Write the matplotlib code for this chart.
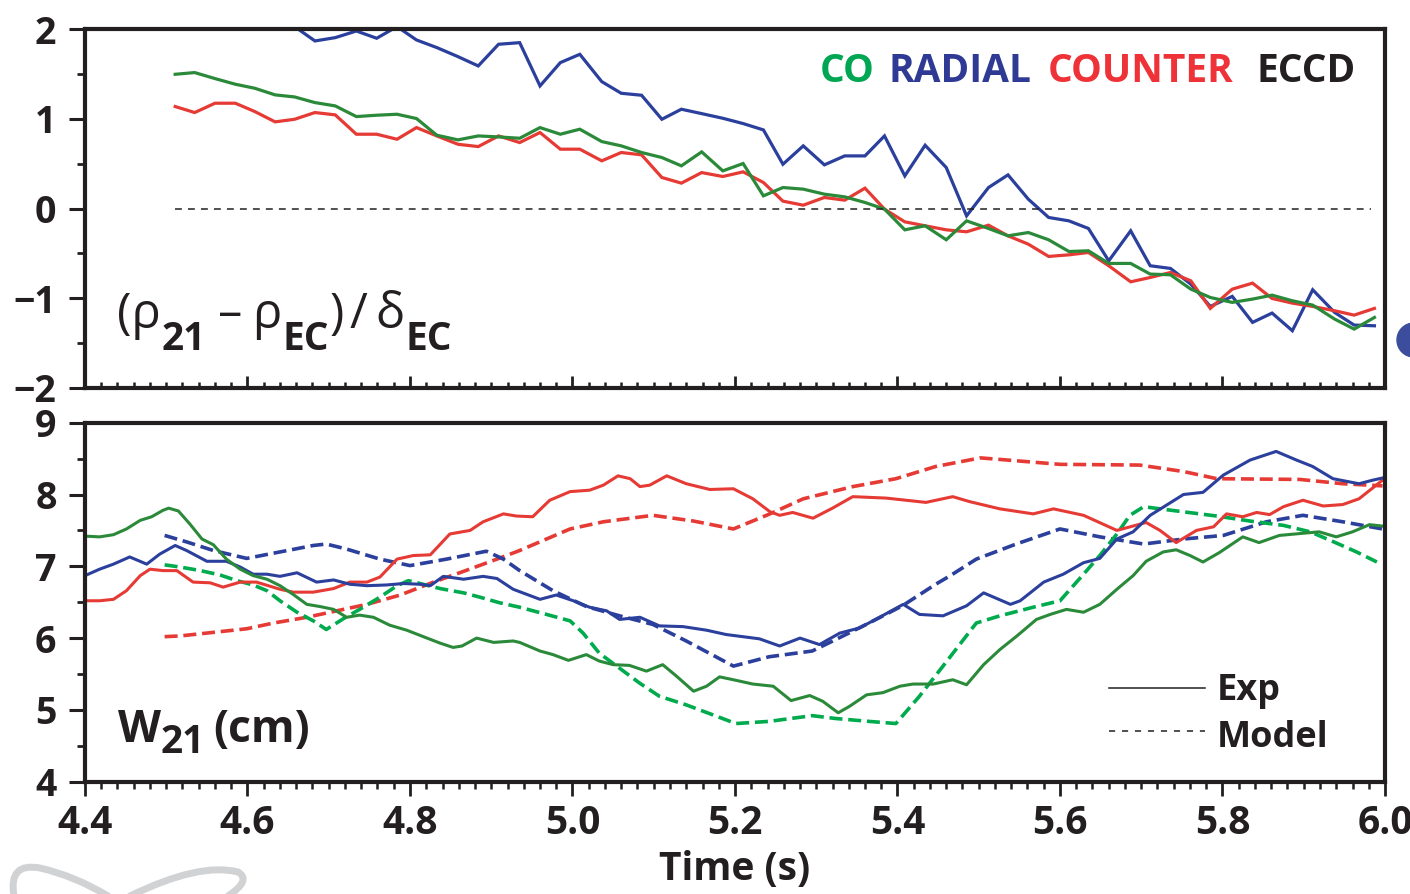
import matplotlib
matplotlib.use('Agg')
import matplotlib.pyplot as plt
from matplotlib import font_manager
from matplotlib.ticker import MultipleLocator, FormatStrFormatter
from matplotlib.patches import Ellipse, PathPatch
from matplotlib.path import Path

# look for a condensed sans face; fall back to Liberation Sans
CONDENSED = ('condensed', 'semi-condensed', 'extra-condensed', 'ultra-condensed')
ttf = font_manager.fontManager.ttflist
FONT, STRETCH = 'Liberation Sans', 'normal'
for want in ('Liberation Sans Narrow', 'Noto Sans', 'Open Sans', 'Roboto', 'DejaVu Sans'):
    hits = [f for f in ttf if f.name == want and
            (want.endswith('Narrow') or f.stretch in CONDENSED)]
    if hits:
        FONT, STRETCH = want, ('normal' if want.endswith('Narrow') else 'condensed')
        break
plt.rcParams['font.family'] = [FONT, 'DejaVu Sans']
plt.rcParams['font.weight'] = 'bold'
plt.rcParams['font.stretch'] = STRETCH

INK = '#231f20'
BLUE = '#2b3f9c'
RED = '#e63a35'
GREEN = '#2b8a3a'
GREEN_MODEL = '#00ab4e'

# ---- top panel: (rho21 - rhoEC)/deltaEC ----
t_top = [4.511, 4.535, 4.560, 4.585, 4.609, 4.634, 4.658, 4.683, 4.708, 4.734,
         4.759, 4.784, 4.808, 4.833, 4.859, 4.884, 4.909, 4.935,
         4.960, 4.985, 5.009, 5.036, 5.060, 5.085, 5.110, 5.134, 5.159, 5.185,
         5.210, 5.235, 5.259, 5.284, 5.310, 5.335, 5.360, 5.384, 5.409, 5.434,
         5.460, 5.485,
         5.512, 5.536, 5.561, 5.586, 5.611, 5.635, 5.660, 5.687, 5.711, 5.736,
         5.761, 5.785, 5.812, 5.837, 5.861, 5.886, 5.911, 5.938, 5.962, 5.987]
co_top = [1.498, 1.517, 1.450, 1.387, 1.342, 1.268, 1.245, 1.182, 1.145, 1.026,
          1.041, 1.052, 1.004, 0.818, 0.766, 0.810, 0.799, 0.784,
          0.903, 0.829, 0.885, 0.747, 0.699, 0.625, 0.569, 0.476, 0.632, 0.420,
          0.502, 0.141, 0.234, 0.216, 0.160, 0.130, 0.067, -0.007, -0.238, -0.193,
          -0.349, -0.138,
          -0.223, -0.305, -0.268, -0.349, -0.480, -0.472, -0.613, -0.613, -0.732, -0.740,
          -0.900, -0.993, -1.048, -1.011, -0.967, -1.030, -1.078, -1.234, -1.346, -1.216]
radial_top = [2.20, 2.15, 2.20, 2.10, 2.15, 2.08, 2.03, 1.870, 1.907, 1.981,
              1.900, 2.03, 1.881, 1.796, 1.695, 1.591, 1.833, 1.851,
              1.368, 1.628, 1.721, 1.416, 1.286, 1.264, 0.996, 1.108, 1.059, 1.007,
              0.948, 0.877, 0.494, 0.699, 0.487, 0.587, 0.587, 0.810, 0.364, 0.706,
              0.457, -0.082,
              0.234, 0.375, 0.104, -0.100, -0.138, -0.223, -0.584, -0.249, -0.639, -0.669,
              -0.844, -1.093, -0.981, -1.271, -1.167, -1.364, -0.907, -1.160, -1.301, -1.309]
counter_top = [1.138, 1.071, 1.175, 1.175, 1.082, 0.967, 0.996, 1.071, 1.045, 0.829,
               0.829, 0.773, 0.903, 0.810, 0.717, 0.691, 0.810, 0.736,
               0.848, 0.662, 0.662, 0.532, 0.625, 0.599, 0.346, 0.283, 0.401, 0.357,
               0.409, 0.290, 0.082, 0.037, 0.123, 0.093, 0.227, -0.007, -0.149, -0.193,
               -0.238, -0.260,
               -0.186, -0.305, -0.398, -0.535, -0.517, -0.491, -0.639, -0.818, -0.770, -0.714,
               -0.807, -1.115, -0.900, -0.833, -1.004, -1.056, -1.093, -1.141, -1.190, -1.115]
zero_line = (4.511, 5.983)

# ---- bottom panel: W21 (cm), experiment ----
t_co_exp = [4.400, 4.418, 4.435, 4.451, 4.468, 4.482, 4.496, 4.503, 4.515, 4.529,
            4.544, 4.558, 4.574, 4.591, 4.607, 4.624, 4.640, 4.656, 4.673, 4.689,
            4.706, 4.722, 4.738, 4.755, 4.775, 4.796, 4.821, 4.837, 4.853, 4.864,
            4.882, 4.903, 4.927, 4.935, 4.960, 4.976, 4.995, 5.017, 5.033, 5.050,
            5.070, 5.091, 5.111, 5.128, 5.149, 5.165, 5.181, 5.198, 5.222, 5.247,
            5.269, 5.292, 5.308, 5.327, 5.341, 5.362, 5.382, 5.403, 5.419, 5.444,
            5.468, 5.485, 5.506, 5.526, 5.547, 5.571, 5.588, 5.608, 5.629, 5.649,
            5.670, 5.690, 5.706, 5.727, 5.743, 5.760, 5.776, 5.796, 5.825, 5.845,
            5.870, 5.899, 5.919, 5.940, 5.960, 5.981, 5.997]
co_exp = [7.42, 7.41, 7.44, 7.52, 7.64, 7.69, 7.78, 7.81, 7.77, 7.59,
          7.38, 7.30, 7.10, 6.96, 6.87, 6.82, 6.73, 6.61, 6.47, 6.44,
          6.40, 6.29, 6.32, 6.29, 6.18, 6.11, 6.00, 5.93, 5.87, 5.89,
          6.00, 5.94, 5.96, 5.94, 5.82, 5.77, 5.69, 5.77, 5.68, 5.63,
          5.62, 5.54, 5.63, 5.47, 5.26, 5.33, 5.46, 5.42, 5.36, 5.33,
          5.13, 5.20, 5.12, 4.96, 5.05, 5.21, 5.24, 5.33, 5.36, 5.36,
          5.42, 5.35, 5.63, 5.84, 6.03, 6.26, 6.33, 6.40, 6.36, 6.47,
          6.68, 6.87, 7.07, 7.20, 7.23, 7.15, 7.06, 7.19, 7.41, 7.33,
          7.43, 7.46, 7.48, 7.41, 7.48, 7.58, 7.56]

t_radial_exp = [4.400, 4.418, 4.435, 4.455, 4.476, 4.492, 4.511, 4.525, 4.550, 4.574,
                4.591, 4.607, 4.624, 4.640, 4.661, 4.685, 4.706, 4.726, 4.747, 4.771,
                4.792, 4.812, 4.825, 4.841, 4.866, 4.890, 4.907, 4.927, 4.960, 4.980,
                5.001, 5.021, 5.042, 5.058, 5.083, 5.107, 5.136, 5.165, 5.189, 5.230,
                5.255, 5.280, 5.304, 5.329, 5.353, 5.378, 5.407, 5.427, 5.456, 5.485,
                5.506, 5.539, 5.551, 5.580, 5.604, 5.629, 5.649, 5.670, 5.690, 5.711,
                5.752, 5.776, 5.801, 5.834, 5.866, 5.891, 5.911, 5.936, 5.968, 5.985,
                5.997]
radial_exp = [6.87, 6.96, 7.03, 7.13, 7.03, 7.17, 7.29, 7.22, 7.07, 7.07,
              6.99, 6.89, 6.89, 6.86, 6.91, 6.78, 6.81, 6.75, 6.73, 6.74,
              6.76, 6.75, 6.73, 6.86, 6.82, 6.86, 6.83, 6.68, 6.54, 6.60,
              6.52, 6.43, 6.38, 6.26, 6.29, 6.17, 6.16, 6.11, 6.05, 5.99,
              5.89, 6.00, 5.91, 6.07, 6.14, 6.29, 6.47, 6.33, 6.31, 6.45,
              6.63, 6.47, 6.52, 6.78, 6.89, 7.05, 7.11, 7.38, 7.48, 7.71,
              8.00, 8.03, 8.27, 8.48, 8.60, 8.48, 8.39, 8.22, 8.15, 8.20,
              8.23]

t_counter_exp = [4.400, 4.418, 4.435, 4.451, 4.468, 4.480, 4.496, 4.513, 4.533, 4.554,
                 4.570, 4.591, 4.611, 4.640, 4.656, 4.681, 4.706, 4.726, 4.747, 4.763,
                 4.784, 4.804, 4.825, 4.849, 4.874, 4.890, 4.915, 4.931, 4.951, 4.972,
                 4.997, 5.021, 5.038, 5.056, 5.071, 5.083, 5.095, 5.116, 5.140, 5.169,
                 5.198, 5.222, 5.243, 5.255, 5.271, 5.296, 5.320, 5.345, 5.386, 5.435,
                 5.468, 5.489, 5.526, 5.567, 5.592, 5.629, 5.670, 5.706, 5.723, 5.743,
                 5.768, 5.789, 5.805, 5.825, 5.842, 5.858, 5.875, 5.899, 5.924, 5.948,
                 5.968, 5.997]
counter_exp = [6.52, 6.52, 6.54, 6.66, 6.87, 6.96, 6.94, 6.94, 6.78, 6.77,
               6.71, 6.78, 6.78, 6.68, 6.64, 6.64, 6.69, 6.78, 6.78, 6.85,
               7.10, 7.15, 7.16, 7.45, 7.50, 7.62, 7.73, 7.70, 7.69, 7.92,
               8.04, 8.06, 8.13, 8.26, 8.22, 8.11, 8.13, 8.26, 8.15, 8.07,
               8.08, 7.94, 7.76, 7.71, 7.75, 7.67, 7.81, 7.97, 7.95, 7.89,
               7.97, 7.90, 7.80, 7.73, 7.80, 7.71, 7.50, 7.61, 7.50, 7.33,
               7.50, 7.55, 7.73, 7.69, 7.75, 7.72, 7.83, 7.92, 7.84, 7.86,
               7.94, 8.20]

# ---- bottom panel: model ----
t_co_mod = [4.498, 4.517, 4.542, 4.566, 4.587, 4.607, 4.624, 4.640, 4.661, 4.681,
            4.697, 4.718, 4.738, 4.763, 4.784, 4.798, 4.816, 4.837, 4.866, 4.886,
            4.911, 4.935, 4.968, 4.997, 5.013, 5.033, 5.058, 5.083, 5.107, 5.140,
            5.173, 5.201, 5.242, 5.295, 5.324, 5.365, 5.398, 5.427, 5.456, 5.497,
            5.526, 5.567, 5.600, 5.629, 5.649, 5.670, 5.686, 5.703, 5.744, 5.793,
            5.834, 5.875, 5.908, 5.937, 5.965, 5.990]
co_mod = [7.02, 6.99, 6.94, 6.88, 6.80, 6.74, 6.66, 6.52, 6.36, 6.24,
          6.12, 6.27, 6.40, 6.57, 6.73, 6.80, 6.75, 6.69, 6.63, 6.57,
          6.49, 6.43, 6.33, 6.24, 6.07, 5.79, 5.58, 5.37, 5.19, 5.07,
          4.93, 4.81, 4.84, 4.92, 4.88, 4.84, 4.81, 5.19, 5.61, 6.21,
          6.31, 6.43, 6.52, 6.89, 7.15, 7.45, 7.71, 7.83, 7.77, 7.70,
          7.63, 7.57, 7.48, 7.34, 7.20, 7.06]

t_radial_mod = [4.498, 4.525, 4.558, 4.599, 4.640, 4.681, 4.697, 4.722, 4.763, 4.800,
                4.845, 4.894, 4.915, 4.935, 4.976, 5.017, 5.058, 5.099, 5.140, 5.198,
                5.242, 5.295, 5.324, 5.365, 5.406, 5.447, 5.465, 5.497, 5.546, 5.600,
                5.649, 5.703, 5.752, 5.801, 5.854, 5.899, 5.948, 5.997]
radial_mod = [7.43, 7.34, 7.22, 7.11, 7.20, 7.29, 7.31, 7.24, 7.10, 7.01,
              7.10, 7.21, 7.10, 6.94, 6.66, 6.44, 6.31, 6.19, 5.96, 5.61,
              5.74, 5.82, 5.98, 6.21, 6.45, 6.75, 6.87, 7.10, 7.31, 7.52,
              7.41, 7.31, 7.38, 7.43, 7.62, 7.71, 7.62, 7.52]

t_counter_mod = [4.498, 4.517, 4.558, 4.599, 4.632, 4.673, 4.714, 4.747, 4.788, 4.829,
                 4.866, 4.907, 4.935, 4.968, 4.997, 5.038, 5.099, 5.149, 5.198, 5.243,
                 5.284, 5.345, 5.398, 5.447, 5.502, 5.546, 5.600, 5.698, 5.752, 5.793,
                 5.895, 5.948, 5.997]
counter_mod = [6.02, 6.03, 6.08, 6.13, 6.21, 6.29, 6.39, 6.47, 6.60, 6.78,
               6.93, 7.10, 7.22, 7.38, 7.52, 7.62, 7.71, 7.63, 7.52, 7.73,
               7.94, 8.11, 8.22, 8.39, 8.51, 8.47, 8.42, 8.41, 8.32, 8.22,
               8.21, 8.15, 8.12]

W, H = 1410, 894
fig = plt.figure(figsize=(W / 100, H / 100), dpi=100)
ax1 = fig.add_axes([85 / W, 1 - 387.7 / H, 1300 / W, 358.4 / H])
ax2 = fig.add_axes([85 / W, 1 - 781.7 / H, 1300 / W, 359 / H])
renderer = fig.canvas.get_renderer()


def fxy(px, py):
    # figure pixel (y from top) -> figure fraction
    return px / W, 1 - py / H


def ftext(px, py, s, **kw):
    return fig.text(*fxy(px, py), s, va='baseline', **kw)


def chain(px, parts):
    # lay pieces side by side: (text, baseline y, gap before, kwargs)
    x = px
    for s, py, gap, kw in parts:
        t = ftext(x + gap, py, s, color=INK, **kw)
        x = t.get_window_extent(renderer).x1


# top panel
ax1.plot(t_top, radial_top, color=BLUE, lw=2.3, solid_joinstyle='miter')
ax1.plot(t_top, counter_top, color=RED, lw=2.3, solid_joinstyle='miter')
ax1.plot(t_top, co_top, color=GREEN, lw=2.3, solid_joinstyle='miter')
ax1.hlines(0, zero_line[0], zero_line[1], color=INK, lw=1.1, linestyles=(0, (4.5, 4)))
ax1.set_ylim(-2, 2)
ax1.yaxis.set_major_locator(MultipleLocator(1))
ax1.yaxis.set_minor_locator(MultipleLocator(0.5))

# bottom panel
dash = (0, (3.6, 1.6))
ax2.plot(t_counter_mod, counter_mod, color=RED, lw=2.6, linestyle=dash)
ax2.plot(t_radial_mod, radial_mod, color=BLUE, lw=2.6, linestyle=dash)
ax2.plot(t_co_mod, co_mod, color=GREEN_MODEL, lw=2.6, linestyle=dash)
ax2.plot(t_counter_exp, counter_exp, color=RED, lw=2.2)
ax2.plot(t_radial_exp, radial_exp, color=BLUE, lw=2.2)
ax2.plot(t_co_exp, co_exp, color=GREEN, lw=2.2)
ax2.set_ylim(4, 9)
ax2.yaxis.set_major_locator(MultipleLocator(1))
ax2.yaxis.set_minor_locator(MultipleLocator(0.5))

for ax in (ax1, ax2):
    ax.set_xlim(4.4, 6.0)
    ax.xaxis.set_major_locator(MultipleLocator(0.2))
    ax.xaxis.set_minor_locator(MultipleLocator(0.02))
    ax.xaxis.set_major_formatter(FormatStrFormatter('%.1f'))
    for s in ax.spines.values():
        s.set_linewidth(3)
        s.set_color(INK)
    ax.tick_params(axis='y', which='major', direction='out', length=11.5, width=2.2,
                   pad=9, labelsize=27, color=INK, labelcolor=INK)
    ax.tick_params(axis='y', which='minor', direction='out', length=5.5, width=2, color=INK)

ax1.tick_params(axis='x', which='major', direction='in', length=9, width=2, color=INK,
                labelbottom=False)
ax1.tick_params(axis='x', which='minor', direction='in', length=4.5, width=1.8, color=INK)
ax2.tick_params(axis='x', which='major', direction='out', length=10, width=2, color=INK,
                pad=6, labelsize=28, labelcolor=INK)
ax2.tick_params(axis='x', which='minor', direction='out', length=5, width=1.8, color=INK)
ax2.set_xlabel('Time (s)', fontsize=28, fontweight='bold', color=INK, labelpad=5)

# top legend words
ftext(847, 82, 'CO', ha='center', fontsize=28, color='#00a651')
ftext(960, 82, 'RADIAL', ha='center', fontsize=28, color='#2e3a94')
ftext(1141, 82, 'COUNTER', ha='center', fontsize=28, color='#ee3237')
ftext(1306, 82, 'ECCD', ha='center', fontsize=28, color=INK)

# (rho21 - rhoEC) / deltaEC
reg = dict(fontsize=35, fontweight='normal', fontstretch='normal')
sub = dict(fontsize=28)
chain(117, [('(ρ', 328, 0, reg), ('21', 350, 1, sub), ('–', 328, 12, reg),
            ('ρ', 328, 10, reg), ('EC', 350, 1, sub), (')', 328, 0, reg),
            ('/', 328, 6, reg), ('δ', 328, 8, reg), ('EC', 350, 1, sub)])

# W21 (cm)
chain(118, [('W', 742, 0, dict(fontsize=32)), ('21', 753, 0, dict(fontsize=28)),
            ('(cm)', 742, 8, dict(fontsize=32))])

# Exp / Model key
ax2.plot([0.7877, 0.8615], [0.261, 0.261], transform=ax2.transAxes, color=INK, lw=1.1)
ax2.plot([0.7877, 0.8615], [0.141, 0.141], transform=ax2.transAxes, color=INK, lw=1.1,
         linestyle=(0, (4, 4.5)))
ftext(1217, 700, 'Exp', fontsize=26, color=INK)
ftext(1217, 747, 'Model', fontsize=26, color=INK)

# slide decorations: bullet cut by the right edge, faint logo at bottom left
fig.add_artist(Ellipse(fxy(1414, 340), 34 / W, 34 / H,
                       transform=fig.transFigure, color='#3b4d9c'))
C3, M = Path.CURVE3, Path.MOVETO
logo = Path([fxy(14, 896), fxy(8, 862), fxy(40, 868), fxy(75, 876), fxy(108, 896),
             fxy(130, 896), fxy(200, 862), fxy(238, 872), fxy(252, 880), fxy(228, 896)],
            [M, C3, C3, C3, C3, M, C3, C3, C3, C3])
fig.add_artist(PathPatch(logo, transform=fig.transFigure, fill=False,
                         edgecolor='#d1d2d4', lw=5, capstyle='round'))

fig.savefig('out.png', dpi=100)
